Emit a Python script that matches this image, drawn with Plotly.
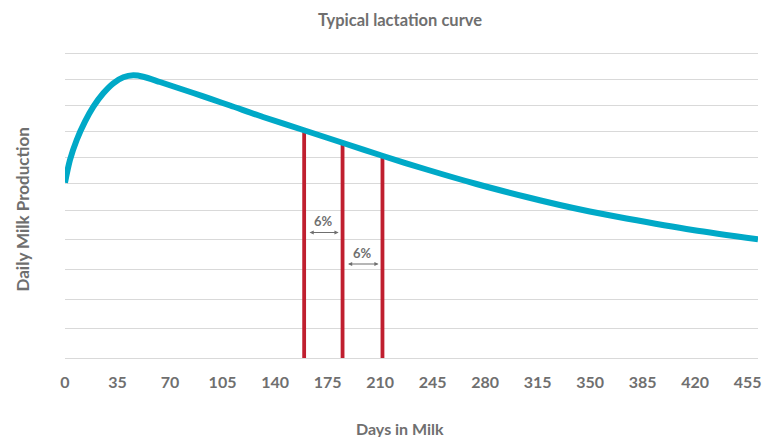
import numpy as np
import plotly.graph_objects as go

# Lactation curve (days in milk, daily milk production in arbitrary kg units)
days = [0, 3.3, 7.8, 13.3, 18.9, 25.5, 32.2, 38.9, 45.5, 52.2, 63.3, 74.4, 85.5,
        96.6, 110, 132, 158.8, 185.4, 212, 241, 274.3, 307.6, 329.8, 349.8, 374.2,
        418.4, 461.9]
milk = [17.53, 19.8, 21.8, 23.63, 25.13, 26.47, 27.47, 28.07, 28.27, 28.13, 27.6,
        27.05, 26.5, 25.93, 25.25, 24.1, 22.8, 21.5, 20.2, 18.85, 17.4, 16.1, 15.3,
        14.65, 13.95, 12.8, 11.87]

# Marker days (red verticals)
marker_days = [159.4, 185.0, 211.6]
drop_labels = ["6%", "6%"]

# Axis ticks
x_ticks = [0, 35, 70, 105, 140, 175, 210, 245, 280, 315, 350, 385, 420, 455]
x_tick_labels = [str(v) for v in x_ticks]
grid_levels = [0, 2.95, 5.9, 8.85, 11.85, 14.8, 17.45, 20.05, 22.65, 25.25, 27.85, 30.45]

GRAY = "#6f6f6f"
TEAL = "#00A9C7"
RED = "#C01F2F"
FONT = "Lato"

W, H = 768, 429
L, R, T, B = 57, 18, 32, 79
PW, PH = W - L - R, H - T - B

fig = go.Figure()

marker_tops = np.interp(marker_days, days, milk)
for d, top in zip(marker_days, marker_tops):
    fig.add_trace(go.Scatter(x=[d, d], y=[0, top], mode="lines",
                             line=dict(color=RED, width=3.8),
                             hoverinfo="skip", showlegend=False))

fig.add_trace(go.Scatter(x=days, y=milk, mode="lines",
                         line=dict(color=TEAL, width=6, shape="spline", smoothing=0.8),
                         showlegend=False))

# Percent-drop annotations between red lines
arrow_levels = [12.55, 9.4]
text_levels = [13.7, 10.55]
for i, lab in enumerate(drop_labels):
    x0 = marker_days[i] + 2.6
    x1 = marker_days[i + 1] - 2.6
    fig.add_annotation(x=x1, y=arrow_levels[i], ax=x0, ay=arrow_levels[i],
                       xref="x", yref="y", axref="x", ayref="y", text="",
                       showarrow=True, arrowhead=2, startarrowhead=2,
                       arrowside="end+start", arrowsize=0.7, startarrowsize=0.7,
                       arrowwidth=1.2, arrowcolor=GRAY)
    fig.add_annotation(x=(marker_days[i] + marker_days[i + 1]) / 2, y=text_levels[i],
                       xref="x", yref="y", text=f"<b>{lab}</b>", showarrow=False,
                       font=dict(family=FONT, size=13, color=GRAY))

# axis titles placed in page pixels (page offset 8 px)
fig.add_annotation(text="<b>Daily Milk Production</b>", textangle=-90,
                   xref="paper", yref="paper",
                   x=(21.5 - 8 - L) / PW, y=(H - B - (210 - 8)) / PH,
                   showarrow=False, xanchor="center", yanchor="middle",
                   font=dict(family=FONT, size=17, color=GRAY))
fig.add_annotation(text="<b>Days in Milk</b>",
                   xref="paper", yref="paper",
                   x=(400 - 8 - L) / PW, y=(H - B - (428 - 8)) / PH,
                   showarrow=False, xanchor="center", yanchor="middle",
                   font=dict(family=FONT, size=16, color=GRAY))

fig.update_layout(
    width=W, height=H,
    margin=dict(l=L, r=R, t=T, b=B),
    paper_bgcolor="white", plot_bgcolor="white",
    title=dict(text="<b>Typical lactation curve</b>", x=(400 - 8) / W, xref="container",
               xanchor="center", y=1 - (20 - 8) / H, yref="container", yanchor="middle",
               font=dict(family=FONT, size=16.5, color=GRAY)),
    xaxis=dict(range=[0, 461.9], tickvals=x_ticks, ticktext=x_tick_labels,
               showgrid=False, zeroline=False, showline=True, linecolor="#d9d9d9",
               linewidth=1, ticks="outside", ticklen=10, tickcolor="rgba(0,0,0,0)",
               tickfont=dict(family=FONT, size=16, color=GRAY, weight="bold")),
    yaxis=dict(range=[0, 31.8], tickvals=grid_levels, showticklabels=False,
               showgrid=True, gridcolor="#d9d9d9", gridwidth=1, zeroline=False,
               showline=False, ticks=""),
)

fig.write_html("out.html")
